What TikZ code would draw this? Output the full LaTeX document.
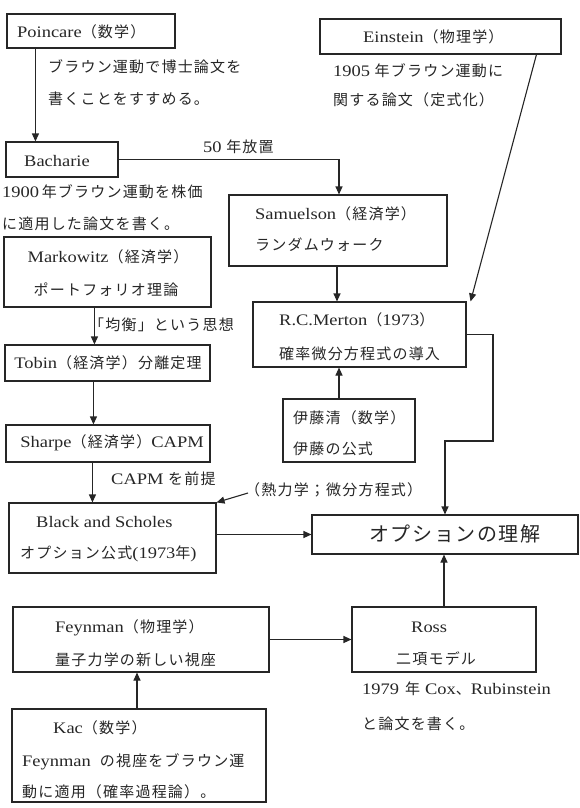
\documentclass[tikz,border=0pt]{standalone}
\usepackage{fontspec}
\setmainfont{Liberation Serif}[FakeStretch=1.15,Scale=1.07]
\newfontfamily\jpf{Noto Sans CJK JP}[LetterSpace=8]
\newcommand\J[1]{{\jpf #1}}
\usetikzlibrary{arrows.meta,calc}
\begin{document}
\begin{tikzpicture}[x=1pt,y=-1pt,
  box/.style={draw=black!85, line width=1.1pt, inner sep=0pt},
  txt/.style={inner sep=0pt, anchor=west, text=black!85, font=\fontsize{15}{18}\selectfont},
  ctxt/.style={txt, anchor=center},
  conn/.style={draw=black!85, line width=1.1pt},
  arr/.style={conn, -{Triangle[length=8pt,width=7pt]}}]
\useasboundingbox (0,0) rectangle (579,808);

% boxes
\node[box, minimum width=168pt, minimum height=34pt] (poin) at (91,31) {};
\node[box, minimum width=112pt, minimum height=35pt] (bach) at (62,159.5) {};
\node[box, minimum width=241pt, minimum height=35pt] (ein) at (440.5,36.5) {};
\node[box, minimum width=218pt, minimum height=71pt] (sam) at (338,230.5) {};
\node[box, minimum width=207pt, minimum height=70pt] (mark) at (107.5,272) {};
\node[box, minimum width=213pt, minimum height=65pt] (mert) at (359.5,334.5) {};
\node[box, minimum width=205pt, minimum height=36pt] (tobin) at (107.5,363) {};
\node[box, minimum width=132pt, minimum height=63pt] (ito) at (349,430.5) {};
\node[box, minimum width=204pt, minimum height=37pt] (sharpe) at (108,443.5) {};
\node[box, minimum width=207pt, minimum height=70pt] (black) at (112.5,538) {};
\node[box, minimum width=266pt, minimum height=39pt] (opt) at (445,534.5) {};
\node[box, minimum width=256pt, minimum height=65pt] (fey) at (141,639.5) {};
\node[box, minimum width=184pt, minimum height=65pt] (ross) at (444,639.5) {};
\node[box, minimum width=254pt, minimum height=93pt] (kac) at (139,755.5) {};

% texts
\node[txt] (tpoin) at (17,32) {Poincare\J{（数学）}};
\node[txt] (tpoin1) at (48,67) {\J{ブラウン運動で博士論文を}};
\node[txt] (tpoin2) at (48,99) {\J{書くことをすすめる。}};
\node[txt] (tbach) at (24,161) {Bacharie};
\node[txt] (t50) at (203,147) {50 \J{年放置}};
\node[txt] (tbach1) at (2,192) {1900\,\J{年ブラウン運動を株価}};
\node[txt] (tbach2) at (2,224) {\J{に適用した論文を書く。}};
\node[txt] (tein) at (363,37) {Einstein\J{（物理学）}};
\node[txt] (tein1) at (333,71) {1905 \J{年ブラウン運動に}};
\node[txt] (tein2) at (333,100) {\J{関する論文（定式化）}};
\node[txt] (tsam1) at (255,214) {Samuelson\J{（経済学）}};
\node[txt] (tsam2) at (255,245) {\J{ランダムウォーク}};
\node[ctxt] (tmark1) at (108,257) {Markowitz\J{（経済学）}};
\node[ctxt] (tmark2) at (106,290) {\J{ポートフォリオ理論}};
\node[txt] (tkinko) at (89,325) {\J{「均衡」という思想}};
\node[ctxt] (ttobin) at (108,363) {Tobin\J{（経済学）分離定理}};
\node[txt] (tmert1) at (279,320) {R.C.Merton\J{（}1973\J{）}};
\node[txt] (tmert2) at (279,354) {\J{確率微分方程式の導入}};
\node[txt] (tito1) at (293,418) {\J{伊藤清（数学）}};
\node[txt] (tito2) at (293,449) {\J{伊藤の公式}};
\node[ctxt] (tsharpe) at (112,443) {Sharpe\J{（経済学）}CAPM};
\node[txt] (tcapm) at (111,479) {CAPM \J{を前提}};
\node[txt] (netsu) at (245,490) {\J{（熱力学；微分方程式）}};
\node[txt] (tblack1) at (36,522) {Black and Scholes};
\node[txt] (tblack2) at (20,554) {\J{オプション公式}(1973\J{年})};
\node[ctxt, font=\fontsize{20}{24}\selectfont] (topt) at (455,534) {\J{オプションの理解}};
\node[txt] (tfey1) at (55,628) {Feynman\J{（物理学）}};
\node[txt] (tfey2) at (55,660) {\J{量子力学の新しい視座}};
\node[txt] (tross1) at (411,627) {Ross};
\node[txt] (tross2) at (396,659) {\J{二項モデル}};
\node[txt] (tross3) at (362,689) {1979\hspace{6pt}\J{年}\hspace{5pt}Cox\J{、}Rubinstein};
\node[txt] (tross4) at (362,724) {\J{と論文を書く。}};
\node[txt] (tkac1) at (53,728) {Kac\J{（数学）}};
\node[txt] (tkac2) at (22,762) {Feynman\hspace{9pt}\J{の視座をブラウン運}};
\node[txt] (tkac3) at (22,792) {\J{動に適用（確率過程論）。}};

% connectors
\draw[arr] ([xshift=29pt]poin.south west) -- ([xshift=30pt]bach.north west);
\draw[arr] (bach.east) -| ([xshift=1pt]sam.north);
\draw[arr] ([xshift=217pt]ein.south west) -- ([xshift=4pt]mert.north east);
\draw[arr] ([xshift=-1pt]sam.south) -- ([xshift=-1pt]sam.south |- mert.north);
\coordinate (i1) at ([xshift=-10pt]ito.north);
\draw[arr] (i1) -- (i1 |- mert.south);
\coordinate (m1) at (493,441);
\draw[arr] (mert.east) -| (m1) -| (opt.north);
\coordinate (k1) at ([xshift=91pt]mark.south west);
\draw[arr] (k1) -- (k1 |- tobin.north);
\coordinate (k2) at ([xshift=89pt]tobin.south west);
\draw[arr] (k2) -- (k2 |- sharpe.north);
\coordinate (k3) at ([xshift=87pt]sharpe.south west);
\draw[arr] (k3) -- (k3 |- black.north);
\draw[arr] ([xshift=3pt,yshift=-3pt]netsu.west) -- (black.north east);
\draw[arr] (opt.west -| black.east) -- (opt.west);
\draw[arr] (ross.north) -- (ross.north |- opt.south);
\draw[arr] (fey.east) -- (ross.west);
\coordinate (k4) at ([xshift=-2pt]kac.north);
\draw[arr] (k4) -- (k4 |- fey.south);
\end{tikzpicture}
\end{document}
